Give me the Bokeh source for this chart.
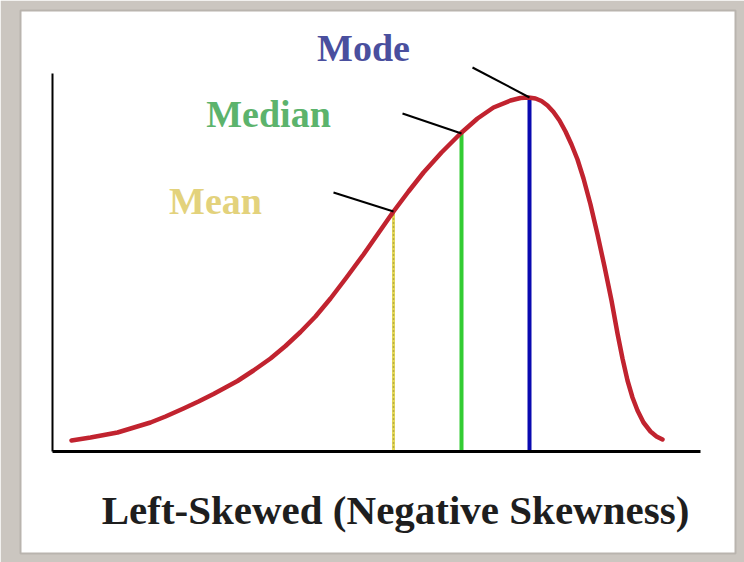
from bokeh.plotting import figure
from bokeh.models import Range1d, Label, ColumnDataSource
from bokeh.core.properties import value
from bokeh.embed import file_html
from bokeh.resources import INLINE

# ---- data (arbitrary units; axis origin = (0, 0)) ----
curve_x = [19, 38, 65, 98, 113, 131, 146, 161, 173, 185, 201, 218, 233, 248,
           263, 278, 294, 311, 326, 341, 356, 371, 389, 408, 425, 441, 458,
           468, 476, 483, 489, 495, 501, 507, 513, 519, 525, 531, 538, 545,
           552, 559, 565, 570, 575, 580, 585, 591, 598, 604, 610]
curve_y = [11, 14, 19, 29, 35, 43, 50, 57.5, 64, 70.5, 81, 93, 105.5, 119.5,
           135, 153, 174, 197, 218.5, 240, 260, 279, 299, 318, 333, 344, 351,
           353.5, 354, 353, 350.5, 346, 339.5, 331, 320, 307, 292, 273, 247, 217,
           185, 151, 118, 93, 71, 54, 41, 29, 20, 15, 12]

stat_names = ["Mean", "Median", "Mode"]
stat_x = [341, 409, 477]
stat_y = [240, 318, 354]

x_axis_len = 648
y_axis_len = 378

title_text = "Left-Skewed (Negative Skewness)"

# ---- styles / layout ----
stat_line_colors = ["#e4d85a", "#33cc33", "#0a0ab0"]
stat_label_colors = ["#e3d27c", "#5cb36c", "#4a4f9e"]
leader_dx = [-60, -59, -57]
leader_dy = [19, 20, 30]
label_x = [163, 216, 311]
label_y = [251, 338, 404]

p = figure(width=744, height=562, output_backend="svg", toolbar_location=None,
           x_range=Range1d(-32, 683), y_range=Range1d(-102, 441),
           min_border_left=20, min_border_right=9, min_border_top=10,
           min_border_bottom=9)
p.border_fill_color = "#cbc6c0"
p.background_fill_color = "white"
p.outline_line_color = "#b9b4ae"
p.outline_line_width = 2
p.grid.visible = False

for ax, b, w in ((p.xaxis, (0, x_axis_len), 3), (p.yaxis, (0, y_axis_len), 2)):
    ax.fixed_location = 0
    ax.bounds = b
    ax.axis_line_color = "black"
    ax.axis_line_width = w
    ax.major_tick_line_color = None
    ax.minor_tick_line_color = None
    ax.major_label_text_color = None
    ax.major_label_text_font_size = "0px"

# vertical stat lines
zeros = [0, 0, 0]
p.segment(x0=stat_x[0:1], y0=zeros[0:1], x1=stat_x[0:1], y1=stat_y[0:1],
          line_color=stat_line_colors[0], line_width=3)
p.segment(x0=stat_x[0:1], y0=zeros[0:1], x1=stat_x[0:1], y1=stat_y[0:1],
          line_color="#8a7f3a", line_width=1.5, line_dash="1 3")
p.segment(x0=stat_x[1:], y0=zeros[1:], x1=stat_x[1:], y1=stat_y[1:],
          line_color=stat_line_colors[1:], line_width=4)

# curve
p.line(curve_x, curve_y, line_color="#c1232f", line_width=4.5,
       line_join="round", line_cap="round")

# leader lines
lx0 = [sx + dx for sx, dx in zip(stat_x, leader_dx)]
ly0 = [sy + dy for sy, dy in zip(stat_y, leader_dy)]
p.segment(x0=lx0, y0=ly0, x1=stat_x, y1=stat_y, line_color="black", line_width=2)

# labels
src = ColumnDataSource(dict(x=label_x, y=label_y, t=stat_names, c=stat_label_colors))
p.text(x="x", y="y", text="t", text_color="c", source=src,
       text_font=value("Liberation Serif"), text_font_style="bold",
       text_font_size="38px", text_align="center", text_baseline="middle")

p.add_layout(Label(x=343, y=-58, text=title_text, text_font="Liberation Serif",
                   text_font_style="bold", text_font_size="41px",
                   text_color="#1e1e1e", text_align="center",
                   text_baseline="middle"))

open("out.html", "w").write(file_html(p, INLINE))
